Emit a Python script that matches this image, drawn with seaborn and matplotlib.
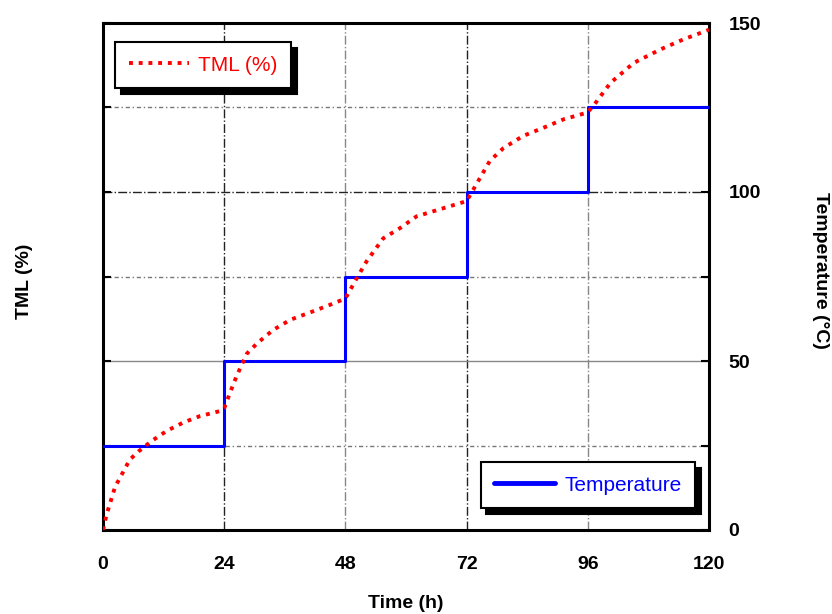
import matplotlib
matplotlib.use("Agg")
import matplotlib.pyplot as plt
import seaborn as sns
import numpy as np
import pandas as pd

# ---- data ----
step_time = [0, 24, 48, 72, 96, 120]
step_temp = [25, 50, 75, 100, 125, 125]

tml_time = [0, 0.7, 2.4, 5.3, 7, 9.6, 12.6, 15.9, 19.2, 23.2, 24,
            25.2, 26.5, 28.5, 30.5, 33.7, 37.1, 41.6, 45.6, 48,
            50.6, 52.2, 55.5, 58.8, 62.1, 65.4, 72,
            73.9, 76.6, 79.3, 83.2, 87.2, 91.2, 95.9,
            97.1, 100.5, 105.1, 110.4, 115, 120]
tml_value = [0, 4.5, 12.8, 20.8, 23.2, 26.3, 29.3, 31.8, 33.7, 35.2, 36,
             40.8, 45.7, 52.2, 55.2, 59.2, 62.2, 64.7, 67, 68.5,
             75.4, 79.5, 86.3, 89.3, 92.8, 94.3, 97.3,
             102.2, 109.2, 113, 116.6, 119, 121.5, 123.5,
             125.5, 132.3, 138.2, 142.2, 145.2, 148]

x_ticks = [0, 24, 48, 72, 96, 120]
y_ticks = [0, 50, 100, 150]
y_minor = [25, 75, 125]

sns.set_theme(style="white")
plt.rcParams['font.family'] = ['Liberation Sans', 'DejaVu Sans']

fig = plt.figure(figsize=(8.32, 6.14), dpi=100)
ax = fig.add_axes([103/832, 1-530/614, 606/832, 507/614])

sns.lineplot(x=step_time, y=step_temp, ax=ax, color='#0000ff', lw=2.2,
             drawstyle='steps-post', label='Temperature', zorder=3)
sns.lineplot(x=tml_time, y=tml_value, ax=ax, color='#ff0000', lw=2.8,
             linestyle=(0, (1.0, 1.5)), label='TML (%)', zorder=4)

ax.set_xlim(0, 120)
ax.set_ylim(0, 150)
ax.set_xticks(x_ticks)
ax.set_yticks(y_ticks)
ax.set_yticks(y_minor, minor=True)

ax.grid(True, which='major', color='#222222', linestyle='-.', lw=1.0)
ax.grid(True, which='minor', axis='y', color='#777777', linestyle=(0, (3, 2, 1, 2)), lw=1.0)
xgl = ax.get_xgridlines()
for i, gl in enumerate(xgl):
    if x_ticks[i] in (48, 96):
        gl.set_color('#888888')
ygl = ax.yaxis.get_gridlines()
for i, gl in enumerate(ygl):
    if y_ticks[i] == 50:
        gl.set_color('#888888')
        gl.set_linestyle('-')

for s in ax.spines.values():
    s.set_color('black')
    s.set_linewidth(2.2)

ax.tick_params(axis='x', direction='in', length=6, width=1.5, colors='black',
               labelcolor='black', labelsize=14, pad=19)
ax.tick_params(axis='y', which='both', direction='in', length=6, width=1.5,
               colors='black', labelcolor='black',
               left=True, right=True, labelleft=False, labelright=True,
               labelsize=14, pad=14)
for lbl in ax.get_xticklabels() + ax.get_yticklabels():
    lbl.set_fontweight('bold')

ax.set_xlabel('Time (h)', fontsize=14, fontweight='bold', color='black')
ax.xaxis.set_label_coords(0.5, -0.128)
ax.set_ylabel('TML (%)', fontsize=14, fontweight='bold', color='black')
ax.yaxis.set_label_coords(-0.115, 0.49)
fig.text(820/832, 1-270/614, 'Temperature (°C)', rotation=270, fontsize=14,
         fontweight='bold', ha='center', va='center', color='black')

handles, labels = ax.get_legend_handles_labels()
h = dict(zip(labels, handles))
shadow = {'color': 'black', 'alpha': 1.0, 'ox': 4, 'oy': -4}
common = dict(fontsize=15, frameon=True, fancybox=False, shadow=shadow,
              edgecolor='black', labelcolor='linecolor', handlelength=2.9,
              handletextpad=0.45, borderpad=0.65, borderaxespad=0,
              framealpha=1)
leg1 = ax.legend([h['TML (%)']], ['TML (%)'], loc='upper left',
                 bbox_to_anchor=(0.02, 0.9625), **common)
leg1.get_frame().set_linewidth(1.5)
ax.add_artist(leg1)
leg2 = ax.legend([h['Temperature']], ['Temperature'], loc='lower right',
                 bbox_to_anchor=(0.977, 0.043), **common)
leg2.get_frame().set_linewidth(1.5)
for l in leg2.get_lines():
    l.set_linewidth(3.5)

fig.savefig('out.png', dpi=100)
